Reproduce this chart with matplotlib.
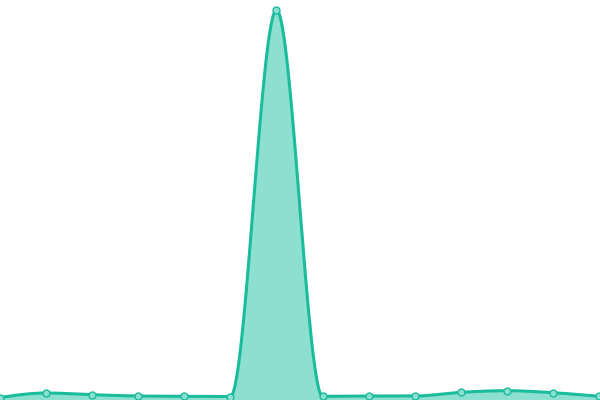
import numpy as np
import matplotlib
matplotlib.use("Agg")
import matplotlib.pyplot as plt

x_idx = list(range(14))
values = [2.5, 7, 5.3, 4, 3.7, 3.5, 390, 3.7, 4, 4, 7.7, 9.3, 7.3, 3.7]

LINE = "#1abc9c"
FILL = "#8de0d0"


def monotone_x(xs, ys, n=60):
    # d3 curveMonotoneX style interpolation
    xs = np.asarray(xs, float)
    ys = np.asarray(ys, float)
    k = len(xs)
    t = np.zeros(k)
    for i in range(1, k - 1):
        h0 = xs[i] - xs[i - 1]
        h1 = xs[i + 1] - xs[i]
        s0 = (ys[i] - ys[i - 1]) / h0
        s1 = (ys[i + 1] - ys[i]) / h1
        p = (s0 * h1 + s1 * h0) / (h0 + h1)
        t[i] = (np.sign(s0) + np.sign(s1)) * min(abs(s0), abs(s1), 0.5 * abs(p))
    h = xs[1] - xs[0]
    t[0] = (3 * (ys[1] - ys[0]) / h - t[1]) / 2
    h = xs[-1] - xs[-2]
    t[-1] = (3 * (ys[-1] - ys[-2]) / h - t[-2]) / 2
    px, py = [], []
    u = np.linspace(0, 1, n)
    for i in range(k - 1):
        x0, x1 = xs[i], xs[i + 1]
        y0, y1 = ys[i], ys[i + 1]
        dx = (x1 - x0) / 3
        cx = [x0, x0 + dx, x1 - dx, x1]
        cy = [y0, y0 + dx * t[i], y1 - dx * t[i + 1], y1]
        b = [(1 - u) ** 3, 3 * (1 - u) ** 2 * u, 3 * (1 - u) * u ** 2, u ** 3]
        px.append(sum(bi * c for bi, c in zip(b, cx)))
        py.append(sum(bi * c for bi, c in zip(b, cy)))
    return np.concatenate(px), np.concatenate(py)


cx, cy = monotone_x(x_idx, values)

fig = plt.figure(figsize=(6, 4), dpi=100)
ax = fig.add_axes([0, 0, 1, 1])
ax.fill_between(cx, 0, cy, color=FILL, linewidth=0)
ax.plot(cx, cy, color=LINE, linewidth=2.2, solid_capstyle="round")
ax.plot(x_idx, values, "o", markersize=5, markerfacecolor=FILL,
        markeredgecolor=LINE, markeredgewidth=1, clip_on=False)
ax.set_xlim(0, 13.02)
ax.set_ylim(0, 400)
ax.axis("off")
fig.savefig("out.png", dpi=100)
